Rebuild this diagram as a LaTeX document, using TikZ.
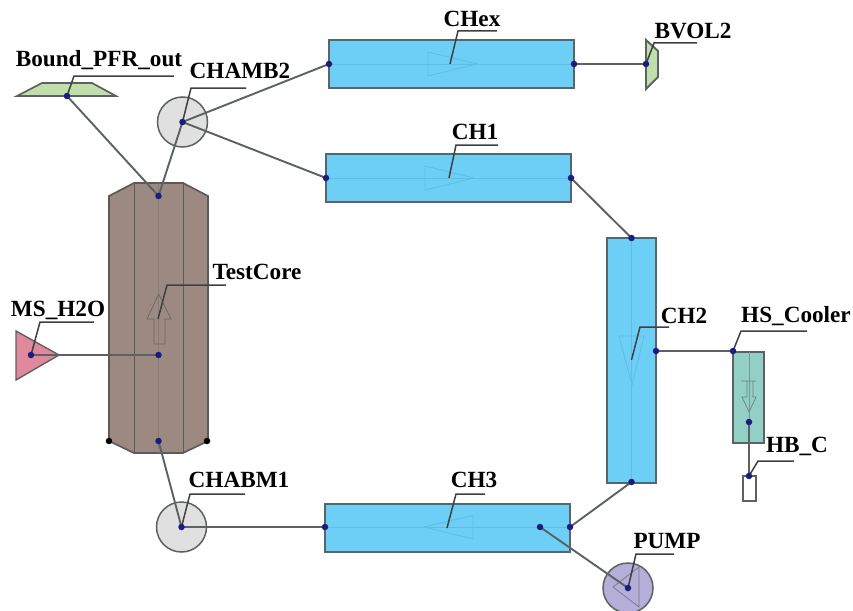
\documentclass[tikz,border=0pt]{standalone}
\usepackage{fontspec}
\setmainfont{Liberation Serif}
\definecolor{pipeblue}{HTML}{6DCFF6}
\definecolor{pipeedge}{HTML}{56666C}
\definecolor{pipeaxis}{HTML}{5FBDDF}
\definecolor{corebrown}{HTML}{9C8A82}
\definecolor{coreedge}{HTML}{5E5A58}
\definecolor{bgreen}{HTML}{C0DFAA}
\definecolor{spink}{HTML}{E0889C}
\definecolor{cgrey}{HTML}{E0E0E0}
\definecolor{ppurple}{HTML}{B4AED8}
\definecolor{hteal}{HTML}{92CFC4}
\definecolor{edgegrey}{HTML}{5C6262}
\definecolor{portnavy}{HTML}{1B1B80}
\tikzset{
  pipe/.style={draw=pipeedge,fill=pipeblue,line width=2pt,rectangle,inner sep=0pt},
  chamber/.style={draw=edgegrey,fill=cgrey,line width=1.5pt,circle,inner sep=0pt,minimum size=50pt},
  axisline/.style={draw=pipeaxis,line width=1pt},
  flowmark/.style={draw=pipeaxis,line width=0.8pt},
  conn/.style={draw=edgegrey,line width=1.9pt},
  leader/.style={draw=black!75,line width=1.5pt},
  portdot/.style={circle,fill=portnavy,inner sep=0pt,minimum size=6.5pt},
  blackdot/.style={circle,fill=black,inner sep=0pt,minimum size=6.5pt},
  lbl/.style={inner sep=0pt,font=\fontsize{23.2}{25}\selectfont\bfseries,text=black}
}
\begin{document}
\begin{tikzpicture}[x=1pt,y=-1pt]
\useasboundingbox (0,0) rectangle (853,610);
\fill[white] (0,0) rectangle (853,610);
\clip (0,0) rectangle (853,610);
% ports
\coordinate (pCHexL) at (329,64);
\coordinate (pCHexR) at (574,64);
\coordinate (pCHexM) at (450,64);
\coordinate (pCH1L) at (326,178);
\coordinate (pCH1R) at (571,178);
\coordinate (pCH1M) at (449,178);
\coordinate (pCH2T) at (631.5,238);
\coordinate (pCH2B) at (631.5,482);
\coordinate (pCH2R) at (656,351);
\coordinate (pCH2M) at (631.5,360);
\coordinate (pCH3L) at (325,527);
\coordinate (pCH3R) at (570,527);
\coordinate (pCH3P) at (540,527);
\coordinate (pCH3M) at (447,528);
\coordinate (pBV) at (646,64);
\coordinate (pBound) at (67,96);
\coordinate (pCore1) at (158.5,196);
\coordinate (pCore2) at (158.5,355);
\coordinate (pCore3) at (158.5,441);
\coordinate (pCoreM) at (158,319);
\coordinate (pMS) at (31,355);
\coordinate (pHS1) at (733,351);
\coordinate (pHS2) at (749,422);
\coordinate (pHB) at (749,476);
% turning points of the label leaders
\coordinate (tCHex) at (458,31); \coordinate (eCHex) at (497,31);
\coordinate (tCH1) at (456,145); \coordinate (eCH1) at (498,145);
\coordinate (tCH2) at (640,327); \coordinate (eCH2) at (669,327);
\coordinate (tCH3) at (456,494); \coordinate (eCH3) at (485,494);
\coordinate (tPU) at (636,554); \coordinate (ePU) at (674,554);
\coordinate (tHS) at (741,331); \coordinate (eHS) at (807,331);
\coordinate (tHB) at (758,461); \coordinate (eHB) at (794,461);
\coordinate (tCA2) at (191,88); \coordinate (eCA2) at (246,88);
\coordinate (tCA1) at (190,494); \coordinate (eCA1) at (245,494);
\coordinate (tBo) at (74,76); \coordinate (eBo) at (174,76);
\coordinate (tCo) at (167,285); \coordinate (eCo) at (226,285);
\coordinate (tMS) at (40,322); \coordinate (eMS) at (94,322);
\coordinate (tBV) at (654,43); \coordinate (eBV) at (697,43);
% pipes
\node[pipe,minimum width=245pt,minimum height=48pt] (CHex) at (451.5,64) {};
\draw[axisline] (pCHexL) -- (pCHexR);
\draw[flowmark] (428,52) -- (477,64) -- (428,76) -- cycle;
\node[pipe,minimum width=245pt,minimum height=48pt] (CHone) at (448.5,178) {};
\draw[axisline] (pCH1L) -- (pCH1R);
\draw[flowmark] (425,166) -- (474,178) -- (425,190) -- cycle;
\node[pipe,minimum width=49pt,minimum height=245pt] (CHtwo) at (631.5,360.5) {};
\draw[axisline] (pCH2T) -- (pCH2B);
\draw[flowmark] (619,336) -- (644,336) -- (632,385) -- cycle;
\node[pipe,minimum width=245pt,minimum height=48pt] (CHthree) at (447.5,527.5) {};
\draw[axisline] (pCH3L) -- (pCH3R);
\draw[flowmark] (424,527) -- (473,515.5) -- (473,539) -- cycle;
% core
\draw[draw=coreedge,fill=corebrown,line width=1.7pt] (109,196) -- (134,183) -- (183,183) -- (208,196) -- (208,441) -- (183,453) -- (134,453) -- (109,441) -- cycle;
\draw[coreedge,line width=1pt] (134,183) -- (134,453) (183,183) -- (183,453);
\draw[draw=corebrown!80!black!90,line width=0.8pt] (158.5,183) -- (158.5,453);
\draw[draw=coreedge!80!corebrown,line width=0.7pt] (158.7,294) -- (171,319) -- (165,319) -- (165,344) -- (154,344) -- (154,319) -- (147,319) -- cycle;
% boundary shapes
\draw[draw=edgegrey,fill=bgreen,line width=1.7pt] (17,96) -- (42,83) -- (92,83) -- (116,96) -- cycle;
\draw[draw=edgegrey,fill=bgreen,line width=1.9pt] (646,40) -- (658,51) -- (658,77) -- (646,89) -- cycle;
\draw[draw=edgegrey,fill=spink,line width=1.4pt] (16,331) -- (59,355) -- (16,380) -- cycle;
% chambers and pump
\node[chamber] (CHAMB) at (182.5,122) {};
\node[chamber] (CHABM) at (181.5,527) {};
\node[chamber,fill=ppurple] (PUMP) at (628,588) {};
\draw[draw=edgegrey!70!ppurple,line width=0.7pt] (639,567) -- (639,607) -- (613,587) -- cycle;
% cooler
\node[draw=edgegrey,fill=hteal,line width=1.9pt,rectangle,inner sep=0pt,minimum width=31pt,minimum height=91pt] (HS) at (748.5,397.5) {};
\draw[draw=edgegrey!50!hteal,line width=0.7pt] (749,352) -- (749,443);
\draw[draw=edgegrey!70!hteal,line width=0.7pt] (741,381) -- (756,381) (747,381) -- (747,397) -- (742,397) -- (749,412) -- (756,397) -- (753,397) -- (753,381);
\node[draw=edgegrey,fill=white,line width=1.9pt,rectangle,inner sep=0pt,minimum width=13pt,minimum height=25pt] (HB) at (749.5,488.5) {};
% connectors
\draw[conn] (pBound) -- (pCore1);
\draw[conn] (pCore1) -- (CHAMB.center);
\draw[conn] (CHAMB.center) -- (pCHexL);
\draw[conn] (CHAMB.center) -- (pCH1L);
\draw[conn] (pCHexR) -- (pBV);
\draw[conn] (pCH1R) -- (pCH2T);
\draw[conn] (pCH2B) -- (pCH3R);
\draw[conn] (pCH2R) -- (pHS1);
\draw[conn] (pHS2) -- (pHB);
\draw[conn] (pMS) -- (pCore2);
\draw[conn] (pCore3) -- (CHABM.center);
\draw[conn] (CHABM.center) -- (pCH3L);
\draw[conn] (pCH3P) -- (PUMP.center);
% leaders
\draw[leader] (pCHexM) -- (tCHex) -- (eCHex);
\draw[leader] (pCH1M) -- (tCH1) -- (eCH1);
\draw[leader] (pCH2M) -- (tCH2) -- (eCH2);
\draw[leader] (pCH3M) -- (tCH3) -- (eCH3);
\draw[leader] (PUMP.center) -- (tPU) -- (ePU);
\draw[leader] (pHS1) -- (tHS) -- (eHS);
\draw[leader] (pHB) -- (tHB) -- (eHB);
\draw[leader] (CHAMB.center) -- (tCA2) -- (eCA2);
\draw[leader] (CHABM.center) -- (tCA1) -- (eCA1);
\draw[leader] (pBound) -- (tBo) -- (eBo);
\draw[leader] (pCoreM) -- (tCo) -- (eCo);
\draw[leader] (pMS) -- (tMS) -- (eMS);
\draw[leader] (pBV) -- (tBV) -- (eBV);
% port dots
\foreach \p in {pCHexL,pCHexR,pCH1L,pCH1R,pCH2T,pCH2B,pCH2R,pCH3L,pCH3R,pCH3P,pBV,pBound,pCore1,pCore2,pCore3,pMS,pHS1,pHS2,pHB,CHAMB.center,CHABM.center,PUMP.center}
  \node[portdot] at (\p) {};
\node[blackdot] (cornerL) at (109,441) {};
\node[blackdot] (cornerR) at (207,441) {};
% labels
\node[lbl] (lCHex) at (472,19) {CHex};
\node[lbl] (lCH1) at (475,132) {CH1};
\node[lbl] (lCH2) at (684,316) {CH2};
\node[lbl] (lCH3) at (474,480) {CH3};
\node[lbl] (lPUMP) at (667,541) {PUMP};
\node[lbl] (lHS) at (796,316) {HS\_Cooler};
\node[lbl] (lHB) at (797,446) {HB\_C};
\node[lbl] (lCA2) at (240,71) {CHAMB2};
\node[lbl] (lCA1) at (239,480) {CHABM1};
\node[lbl] (lBo) at (99,60) {Bound\_PFR\_out};
\node[lbl] (lCo) at (257,272) {TestCore};
\node[lbl] (lMS) at (58,310) {MS\_H2O};
\node[lbl] (lBV) at (693,31) {BVOL2};
\end{tikzpicture}
\end{document}
